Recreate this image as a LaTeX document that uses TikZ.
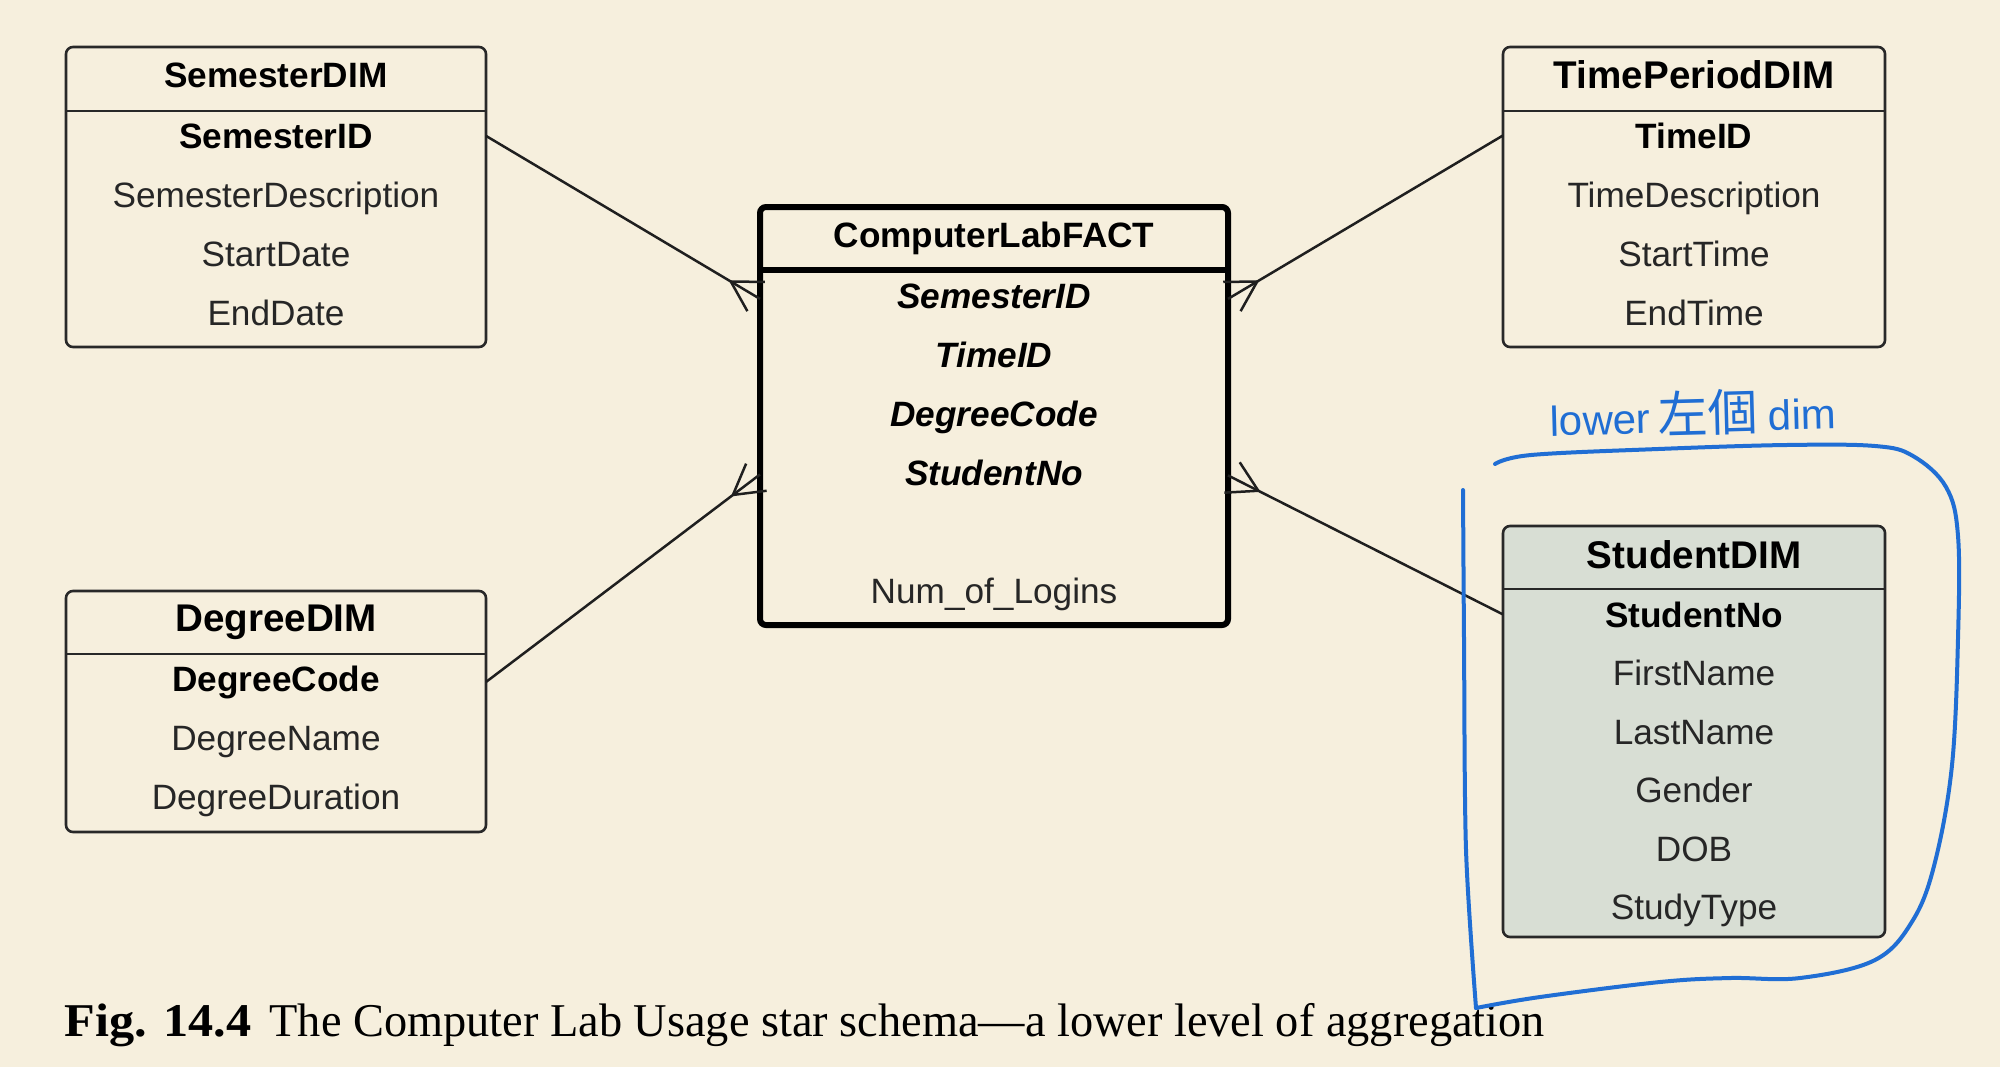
\documentclass[tikz,border=0pt]{standalone}
\usepackage{fontspec}
\setmainfont{Liberation Sans}
\newfontfamily\capfont{Liberation Serif}
\newfontfamily\cjkfont{Noto Sans CJK TC}
\usetikzlibrary{calc}
\definecolor{bgcream}{RGB}{246,239,221}
\definecolor{inkblue}{RGB}{32,110,212}
\definecolor{stufill}{RGB}{216,222,212}
\definecolor{boxline}{RGB}{40,40,40}
\definecolor{txt}{RGB}{38,38,38}
\begin{document}
\begin{tikzpicture}[x=0.5pt,y=-0.5pt,
  dimbox/.style={draw=boxline, line width=1.3pt, rounded corners=3.5pt, inner sep=0pt, outer sep=0pt, anchor=north west},
  factbox/.style={draw=black, line width=3pt, rounded corners=3pt, inner sep=0pt, outer sep=0pt, anchor=north west},
  hdr/.style={anchor=base, inner sep=0pt, text=black, font=\fontsize{17.6pt}{20pt}\selectfont\bfseries},
  hdrL/.style={anchor=base, inner sep=0pt, text=black, font=\fontsize{19.3pt}{22pt}\selectfont\bfseries},
  attr/.style={anchor=base, inner sep=0pt, text=txt, font=\fontsize{17.6pt}{20pt}\selectfont},
  keyattr/.style={anchor=base, inner sep=0pt, text=black, font=\fontsize{17.6pt}{20pt}\selectfont\bfseries},
  fkattr/.style={anchor=base, inner sep=0pt, text=black, font=\fontsize{17.6pt}{20pt}\selectfont\bfseries\itshape},
  conn/.style={draw=black!88, line width=1.25pt},
  divider/.style={draw=boxline, line width=1.3pt},
  ink/.style={draw=inkblue, line width=2pt, line cap=round, line join=round}
]
\fill[bgcream] (0,0) rectangle (2000,1067);
\useasboundingbox (0,0) rectangle (2000,1067);

% ---------- boxes ----------
\node[dimbox, minimum width=210pt, minimum height=150pt] (sem) at (66,47) {};
\node[dimbox, minimum width=191pt, minimum height=150pt] (time) at (1503,47) {};
\node[factbox, minimum width=234pt, minimum height=209pt] (fact) at (760,207) {};
\node[dimbox, minimum width=210pt, minimum height=120.5pt] (deg) at (66,591) {};
\node[dimbox, fill=stufill, minimum width=191pt, minimum height=205.5pt] (stu) at (1503,526) {};

\draw[divider] ([yshift=-32pt]sem.north west) -- ([yshift=-32pt]sem.north east);
\draw[divider] ([yshift=-32pt]time.north west) -- ([yshift=-32pt]time.north east);
\draw[black, line width=3pt] ([yshift=-31.5pt]fact.north west) -- ([yshift=-31.5pt]fact.north east);
\draw[divider] ([yshift=-31.5pt]deg.north west) -- ([yshift=-31.5pt]deg.north east);
\draw[divider] ([yshift=-31.5pt]stu.north west) -- ([yshift=-31.5pt]stu.north east);

% ---------- SemesterDIM ----------
\node[hdr] (semh) at (276,87) {SemesterDIM};
\node[keyattr] (semk) at (276,148) {SemesterID};
\node[attr] (sem2) at (276,207) {SemesterDescription};
\node[attr] (sem3) at (276,266) {StartDate};
\node[attr] (sem4) at (276,325) {EndDate};

% ---------- TimePeriodDIM ----------
\node[hdrL] (timeh) at (1694,88) {TimePeriodDIM};
\node[keyattr] (timek) at (1694,148) {TimeID};
\node[attr] (time2) at (1694,207) {TimeDescription};
\node[attr] (time3) at (1694,266) {StartTime};
\node[attr] (time4) at (1694,325) {EndTime};

% ---------- ComputerLabFACT ----------
\node[hdr] (facth) at (994,247) {ComputerLabFACT};
\node[fkattr] (fsem) at (994,308) {SemesterID};
\node[fkattr] (ftime) at (994,367) {TimeID};
\node[fkattr] (fdeg) at (994,426) {DegreeCode};
\node[fkattr] (fstu) at (994,485) {StudentNo};
\node[attr] (fnum) at (994,603) {Num\_of\_Logins};

% ---------- DegreeDIM ----------
\node[hdrL] (degh) at (276,631) {DegreeDIM};
\node[keyattr] (degk) at (276,691) {DegreeCode};
\node[attr] (deg2) at (276,750) {DegreeName};
\node[attr] (deg3) at (276,809) {DegreeDuration};

% ---------- StudentDIM ----------
\node[hdrL] (stuh) at (1694,568) {StudentDIM};
\node[keyattr] (stuk) at (1694,627) {StudentNo};
\node[attr] (stu2) at (1694,685.5) {FirstName};
\node[attr] (stu3) at (1694,744) {LastName};
\node[attr] (stu4) at (1694,802.5) {Gender};
\node[attr] (stu5) at (1694,861) {DOB};
\node[attr] (stu6) at (1694,919.5) {StudyType};

% ---------- connectors with crow's feet ----------
\coordinate (d1) at (sem.east |- semk);
\coordinate[yshift=-1.5pt] (e1) at (fact.west |- fsem);
\coordinate (d2) at (time.west |- timek);
\coordinate[yshift=-1.5pt] (e2) at (fact.east |- fsem);
\coordinate (d3) at (deg.east |- degk);
\coordinate[yshift=-1pt] (e3) at (fact.west |- fstu);
\coordinate (d4) at (stu.west |- stuk);
\coordinate[yshift=-1.5pt] (e4) at (fact.east |- fstu);

\foreach \i in {1,2,3,4}{
  \draw[conn] (d\i) -- (e\i);
  \coordinate (j\i) at ($(e\i)!17pt!(d\i)$);
  \draw[conn] (j\i) -- ($(j\i)!1!30:(e\i)$);
  \draw[conn] (j\i) -- ($(j\i)!1!-30:(e\i)$);
}

% ---------- caption ----------
\node[anchor=base west, inner sep=0pt, text=black, font=\capfont\fontsize{23.5pt}{26pt}\selectfont] (cap) at (64,1036)
  {\scalebox{1.07}[1]{\textbf{Fig. 14.4}}\hspace{9pt}\scalebox{0.986}[1]{The Computer Lab Usage star schema—a lower level of aggregation}};

% ---------- handwritten annotation ----------
\node[anchor=base west, inner sep=0pt, text=inkblue, rotate=1.5] (note) at (1550,436)
  {\fontsize{21pt}{21pt}\selectfont lower\hspace{4pt}{\cjkfont\fontsize{25pt}{25pt}\selectfont 左個}\hspace{5pt}dim};

\draw[ink] plot[smooth, tension=0.5] coordinates {(1463,490) (1464,640) (1466,850) (1476,1008)};
\draw[ink] plot[smooth, tension=0.6] coordinates {(1476,1008) (1540,997) (1660,982) (1730,978) (1800,978) (1875,960) (1913,920) (1935,862) (1952,765) (1958,638) (1958,536) (1946,487) (1913,456) (1875,446) (1786,445) (1658,449) (1531,455) (1495,464)};
\end{tikzpicture}
\end{document}
